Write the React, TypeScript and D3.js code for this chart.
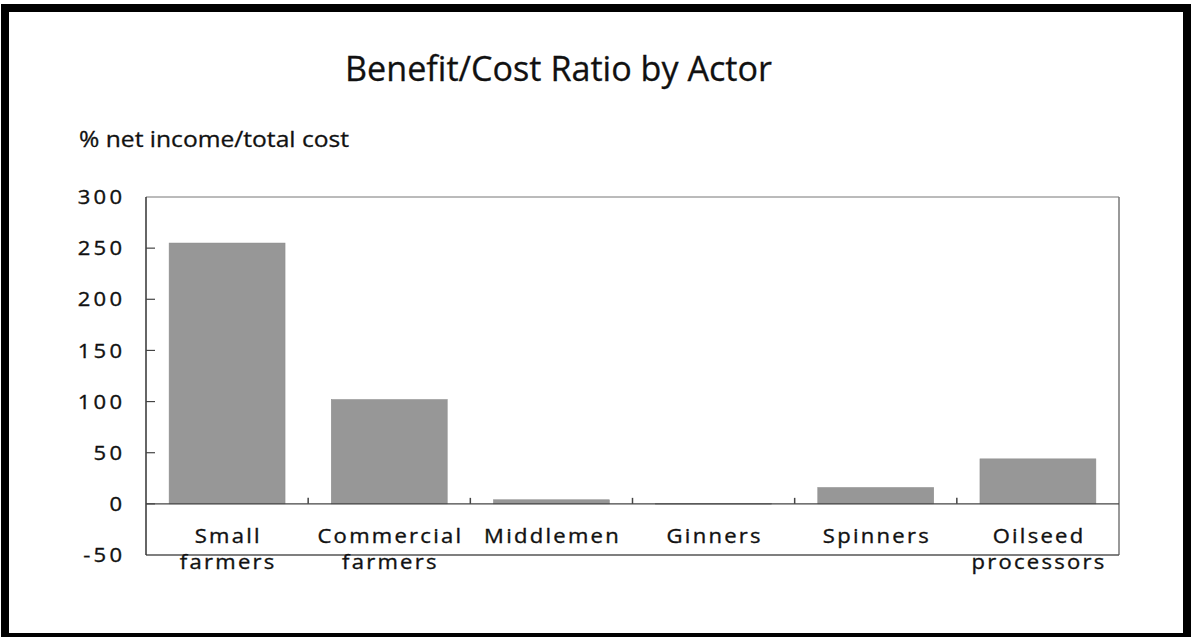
import React from "react";
import * as d3 from "d3";

const categories: string[][] = [
  ["Small", "farmers"],
  ["Commercial", "farmers"],
  ["Middlemen"],
  ["Ginners"],
  ["Spinners"],
  ["Oilseed", "processors"],
];
const values: number[] = [255, 102, 4, 0.5, 16, 44];
const yTicks: number[] = [-50, 0, 50, 100, 150, 200, 250, 300];
const title = "Benefit/Cost Ratio by Actor";
const yLabel = "% net income/total cost";

const W = 1192;
const H = 637;
const m = { left: 146, right: 1119, top: 197, bottom: 555 };
const FONT = "'Open Sans', 'Noto Sans', sans-serif";

export default function App() {
  const keys = categories.map((c) => c.join(" "));
  const x = d3
    .scaleBand<string>()
    .domain(keys)
    .range([m.left, m.right])
    .paddingInner(0.285)
    .paddingOuter(0.1425);
  const y = d3.scaleLinear().domain([-50, 300]).range([m.bottom, m.top]);
  const step = x.step();
  const boundaries = keys.slice(1).map((k) => (x(k) as number) - (step - x.bandwidth()) / 2);
  const catLS = 2;
  const catSX = 1.13;
  const tickLS = 3;
  const tickSX = 1.1;

  return (
    <svg
      width={W}
      height={H}
      style={{ position: "absolute", left: 0, top: 0, background: "#fff" }}
      fontFamily={FONT}
    >
      <rect x={0} y={0} width={W} height={H} fill="#fff" />
      <rect x={5} y={8} width={1182} height={629} fill="none" stroke="#000" strokeWidth={8} />
      <text
        x={345}
        y={81}
        fontSize={35}
        fill="#111"
        stroke="#111"
        strokeWidth={0.3}
        textLength={427}
        lengthAdjust="spacingAndGlyphs"
      >
        {title}
      </text>
      <text
        x={79}
        y={147}
        fontSize={22}
        fill="#111"
        stroke="#111"
        strokeWidth={0.3}
        textLength={270}
        lengthAdjust="spacingAndGlyphs"
      >
        {yLabel}
      </text>

      {/* plot frame */}
      <line x1={m.left} x2={m.right} y1={m.top} y2={m.top} stroke="#777" strokeWidth={1} />
      <line x1={m.right} x2={m.right} y1={m.top} y2={m.bottom} stroke="#777" strokeWidth={1.5} />
      <line x1={m.left} x2={m.right} y1={m.bottom} y2={m.bottom} stroke="#555" strokeWidth={1.5} />
      <line x1={m.left} x2={m.left} y1={m.top} y2={m.bottom} stroke="#333" strokeWidth={1.5} />

      {/* bars */}
      {keys.map((k, i) => {
        const v = values[i];
        const y0 = y(0);
        const y1 = y(v);
        return (
          <rect
            key={k}
            x={x(k)}
            y={Math.min(y0, y1)}
            width={x.bandwidth()}
            height={Math.max(Math.abs(y0 - y1), 0.8)}
            fill="#979797"
            stroke="#8a8a8a"
            strokeWidth={0.5}
          />
        );
      })}

      {/* zero line */}
      <line x1={m.left} x2={m.right} y1={y(0)} y2={y(0)} stroke="#444" strokeWidth={1.2} />
      {boundaries.map((b, i) => (
        <line key={i} x1={b} x2={b} y1={y(0)} y2={y(0) - 6} stroke="#444" strokeWidth={1.5} />
      ))}

      {/* y ticks */}
      {yTicks.map((t) => (
        <g key={t}>
          {t > -50 && t < 300 && (
            <line x1={m.left} x2={m.left + 9} y1={y(t)} y2={y(t)} stroke="#444" strokeWidth={1.2} />
          )}
          <g transform={`translate(${122 + tickLS * tickSX},${y(t)}) scale(${tickSX},1)`}>
            <text
              x={0}
              y={0}
              dy="0.36em"
              textAnchor="end"
              fontSize={20}
              letterSpacing={tickLS}
              fill="#111"
              stroke="#111"
              strokeWidth={0.35}
            >
              {String(t)}
            </text>
          </g>
        </g>
      ))}

      {/* category labels */}
      {categories.map((lines, i) => {
        const cx = (x(keys[i]) as number) + x.bandwidth() / 2;
        return (
          <g key={i} transform={`translate(${cx + (catLS * catSX) / 2},0) scale(${catSX},1)`}>
            <text
              textAnchor="middle"
              fontSize={19.5}
              letterSpacing={catLS}
              fill="#111"
              stroke="#111"
              strokeWidth={0.35}
            >
              {lines.map((l, j) => (
                <tspan key={j} x={0} y={543 + j * 25.6}>
                  {l}
                </tspan>
              ))}
            </text>
          </g>
        );
      })}
    </svg>
  );
}
